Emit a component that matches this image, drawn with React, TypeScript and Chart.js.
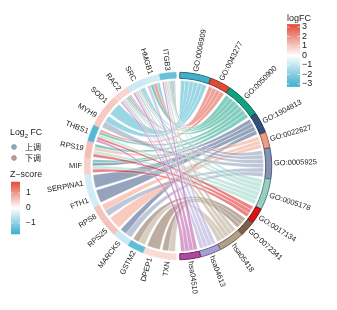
import { useEffect, useRef } from "react";
import { Chart, registerables } from "chart.js";

Chart.register(...registerables);

// ---- data ----
const terms = [
  "GO:0006909", "GO:0043277", "GO:0050900", "GO:1904813", "GO:0022627", "GO:0005925",
  "GO:0005178", "GO:0017134", "GO:0072341", "hsa05418", "hsa04613", "hsa04510",
];
const termColors = [
  "#3FB1CC", "#E04B37", "#12A083", "#34507F", "#F29C82", "#8592B5",
  "#93D2C3", "#D81414", "#7E6148", "#B3A089", "#A79FD4", "#B2479E",
];
// genes in clockwise order starting at the bottom of the circle
const genes = [
  "TXN", "DPEP1", "GSTM2", "MARCKS", "RPS25", "RPS8", "FTH1", "SERPINA1", "MIF",
  "RPS19", "THBS1", "MYH9", "SOD1", "RAC2", "SRC", "HMGB1", "ITGB3",
];
const logFC = [0.6, 0.6, -2.4, -0.8, 1.0, 1.0, -0.7, -0.7, 0.8, 1.1, -2.6, 0.9, 0.9, 0.7, -0.8, -0.7, -2.3];
const termGenes = [
  ["ITGB3", "HMGB1", "SRC", "RAC2", "SOD1", "MYH9"],
  ["ITGB3", "HMGB1", "RAC2", "THBS1"],
  ["ITGB3", "HMGB1", "SRC", "RAC2", "THBS1", "RPS19", "MIF"],
  ["MIF", "SERPINA1", "FTH1", "MARCKS"],
  ["RPS19", "RPS8", "RPS25"],
  ["ITGB3", "SRC", "RAC2", "MYH9", "RPS8", "MARCKS"],
  ["ITGB3", "SRC", "RAC2", "THBS1", "RPS19", "MIF"],
  ["THBS1", "RPS19", "MIF"],
  ["GSTM2", "DPEP1", "TXN"],
  ["ITGB3", "SRC", "RAC2", "GSTM2", "TXN"],
  ["ITGB3", "HMGB1", "SRC", "RAC2"],
  ["ITGB3", "SRC", "RAC2", "THBS1"],
];
const logFCTicks = [3, 2, 1, 0, -1, -2, -3];
const zTicks = [1, 0, -1];
const dirLabels = ["上调", "下调"];

// ---- helpers ----
const RED = [226, 74, 56];
const BLUE = [58, 174, 205];
const WHITE = [255, 255, 255];
function mix(a: number[], b: number[], t: number) {
  const c = a.map((v, i) => Math.round(v + (b[i] - v) * t));
  return `rgb(${c[0]},${c[1]},${c[2]})`;
}
function fcColor(v: number) {
  const t = Math.max(-1, Math.min(1, v / 3));
  return t >= 0 ? mix(WHITE, RED, t) : mix(WHITE, BLUE, -t);
}
function hexRgb(h: string) {
  return [1, 3, 5].map((i) => parseInt(h.slice(i, i + 2), 16));
}
function darken(h: string, f: number) {
  const c = hexRgb(h).map((v) => Math.round(v * f));
  return `rgb(${c[0]},${c[1]},${c[2]})`;
}
function alpha(h: string, a: number) {
  const c = hexRgb(h);
  return `rgba(${c[0]},${c[1]},${c[2]},${a})`;
}

const FONT = "'Liberation Sans', Arial, Helvetica, sans-serif";
const termCounts = termGenes.map((g) => g.length);
const totalLinks = termCounts.reduce((a, b) => a + b, 0);
const geneVal = totalLinks / genes.length;
const gapVal = totalLinks * 0.012;
const totalVal = 2 * totalLinks + 2 * gapVal;
const gapDeg = (gapVal / totalVal) * 360;

const chordPlugin = {
  id: "chord",
  beforeDatasetsDraw(chart: any) {
    const ctx = chart.ctx;
    const arcs = chart.getDatasetMeta(0).data;
    const nT = terms.length;
    const cx = arcs[0].x;
    const cy = arcs[0].y;
    const R = arcs[0].innerRadius - 1.5;
    const inset = 1.2 / R;
    const span = (a: any) => [a.startAngle + inset, a.endAngle - inset];

    const geneSlot: Record<string, number[]> = {};
    genes.forEach((g, gi) => {
      const tl = terms.map((_, ti) => ti).filter((ti) => termGenes[ti].includes(g));
      const [s, e] = span(arcs[nT + 1 + gi]);
      const w = (e - s) / tl.length;
      tl.forEach((ti, k) => {
        const j = tl.length - 1 - k;
        geneSlot[ti + "|" + g] = [s + j * w, s + (j + 1) * w];
      });
    });

    const P = (a: number) => [cx + Math.cos(a) * R, cy + Math.sin(a) * R];
    terms.forEach((t, ti) => {
      const gl = [...termGenes[ti]].sort((a, b) => genes.indexOf(b) - genes.indexOf(a));
      const [s, e] = span(arcs[ti]);
      const w = (e - s) / gl.length;
      gl.forEach((g, k) => {
        const t0 = s + k * w;
        const t1 = s + (k + 1) * w;
        const [g0, g1] = geneSlot[ti + "|" + g];
        ctx.beginPath();
        const p0 = P(g0);
        ctx.moveTo(p0[0], p0[1]);
        ctx.arc(cx, cy, R, g0, g1);
        const pt0 = P(t0);
        ctx.quadraticCurveTo(cx, cy, pt0[0], pt0[1]);
        ctx.arc(cx, cy, R, t0, t1);
        ctx.quadraticCurveTo(cx, cy, p0[0], p0[1]);
        ctx.closePath();
        ctx.fillStyle = alpha(termColors[ti], 0.52);
        ctx.fill();
        ctx.lineWidth = 0.5;
        ctx.strokeStyle = "rgba(255,255,255,0.7)";
        ctx.stroke();
      });
    });
  },
  afterDraw(chart: any) {
    const ctx = chart.ctx;
    const arcs = chart.getDatasetMeta(0).data;
    const nT = terms.length;
    const cx = arcs[0].x;
    const cy = arcs[0].y;
    const rl = arcs[0].outerRadius + 3;
    ctx.save();
    ctx.fillStyle = "#1a1a1a";
    ctx.font = `7.5px ${FONT}`;
    ctx.textBaseline = "middle";
    const label = (a: any, text: string, right: boolean) => {
      const m = (a.startAngle + a.endAngle) / 2;
      ctx.save();
      ctx.translate(cx + Math.cos(m) * rl, cy + Math.sin(m) * rl);
      if (right) {
        ctx.rotate(m);
        ctx.textAlign = "left";
      } else {
        ctx.rotate(m + Math.PI);
        ctx.textAlign = "right";
      }
      ctx.fillText(text, 0, 0);
      ctx.restore();
    };
    terms.forEach((t, i) => label(arcs[i], t, true));
    genes.forEach((g, i) => label(arcs[nT + 1 + i], g, false));

    // logFC legend
    ctx.textAlign = "left";
    ctx.font = `9px ${FONT}`;
    ctx.fillText("logFC", 287, 19);
    const yF = (v: number) => 55.5 - v * 9.5;
    const bx = 287, bw = 13;
    const top = yF(3.3), bot = yF(-3.3);
    let gr = ctx.createLinearGradient(0, top, 0, bot);
    gr.addColorStop(0, mix(WHITE, RED, 1));
    gr.addColorStop(0.5, "#ffffff");
    gr.addColorStop(1, mix(WHITE, BLUE, 1));
    ctx.fillStyle = gr;
    ctx.fillRect(bx, top, bw, bot - top);
    ctx.strokeStyle = "#ffffff";
    ctx.lineWidth = 0.6;
    ctx.fillStyle = "#1a1a1a";
    ctx.font = `9px ${FONT}`;
    logFCTicks.forEach((v) => {
      const y = yF(v);
      ctx.beginPath();
      ctx.moveTo(bx, y); ctx.lineTo(bx + 2.6, y);
      ctx.moveTo(bx + bw - 2.6, y); ctx.lineTo(bx + bw, y);
      ctx.stroke();
      ctx.fillText(v < 0 ? "−" + Math.abs(v) : String(v), bx + bw + 2, y);
    });

    // Log2 FC legend
    ctx.font = `8.8px ${FONT}`;
    ctx.fillText("Log", 10, 133);
    const w = ctx.measureText("Log").width;
    ctx.font = `6px ${FONT}`;
    ctx.fillText("2", 10 + w, 136);
    const w2 = ctx.measureText("2").width;
    ctx.font = `8.8px ${FONT}`;
    ctx.fillText(" FC", 10 + w + w2, 133);
    const dotFill = ["#8FABBF", "#C29A9A"];
    const dotStroke = ["#6F8A9C", "#A27A7A"];
    ctx.font = `8px 'Noto Sans CJK SC', ${FONT}`;
    dirLabels.forEach((t, i) => {
      const y = 147 + i * 11;
      ctx.beginPath();
      ctx.arc(14, y, 2.4, 0, Math.PI * 2);
      ctx.fillStyle = dotFill[i];
      ctx.fill();
      ctx.strokeStyle = dotStroke[i];
      ctx.lineWidth = 0.7;
      ctx.stroke();
      ctx.fillStyle = "#1a1a1a";
      ctx.fillText(t, 25, y);
    });

    // Z-score legend
    ctx.font = `8.8px ${FONT}`;
    ctx.fillText("Z−score", 10, 175);
    const yZ = (v: number) => 208 - v * 15;
    const zx = 11, zw = 9;
    const zt = yZ(1.75), zb = yZ(-1.75);
    gr = ctx.createLinearGradient(0, zt, 0, zb);
    gr.addColorStop(0, mix(WHITE, RED, 1));
    gr.addColorStop(0.5, "#ffffff");
    gr.addColorStop(1, mix(WHITE, BLUE, 1));
    ctx.fillStyle = gr;
    ctx.fillRect(zx, zt, zw, zb - zt);
    ctx.strokeStyle = "#ffffff";
    ctx.lineWidth = 0.6;
    ctx.fillStyle = "#1a1a1a";
    ctx.font = `8.5px ${FONT}`;
    zTicks.forEach((v) => {
      const y = yZ(v);
      ctx.beginPath();
      ctx.moveTo(zx, y); ctx.lineTo(zx + 1.8, y);
      ctx.moveTo(zx + zw - 1.8, y); ctx.lineTo(zx + zw, y);
      ctx.stroke();
      ctx.fillText(v < 0 ? "−" + Math.abs(v) : String(v), zx + zw + 6, y);
    });
    ctx.restore();
  },
};

export default function App() {
  const ref = useRef<HTMLCanvasElement>(null);
  useEffect(() => {
    const transparent = "rgba(0,0,0,0)";
    const values = [...termCounts, gapVal, ...genes.map(() => geneVal), gapVal];
    const bg = [...termColors, transparent, ...logFC.map(fcColor), transparent];
    const bc = [
      ...termColors.map((c) => darken(c, 0.62)), transparent,
      ...logFC.map(fcColor), transparent,
    ];
    const bwid = [...terms.map(() => 1), 0, ...genes.map(() => 0.5), 0];
    const chart = new Chart(ref.current!, {
      type: "doughnut",
      data: {
        labels: [...terms, "", ...genes, ""],
        datasets: [
          {
            data: values,
            backgroundColor: bg,
            borderColor: bc,
            borderWidth: bwid,
            spacing: 1.5,
            radius: 93,
            cutout: "93.5%",
          } as any,
        ],
      },
      options: {
        animation: false,
        responsive: false,
        devicePixelRatio: 1,
        rotation: gapDeg / 2,
        layout: { padding: { left: 19, right: 0, top: 22, bottom: 0 } },
        plugins: { legend: { display: false }, tooltip: { enabled: false } },
        events: [],
      } as any,
      plugins: [chordPlugin],
    });
    return () => chart.destroy();
  }, []);
  return (
    <div style={{ position: "absolute", left: 0, top: 0, width: 337, height: 310, background: "#fff" }}>
      <canvas ref={ref} width={337} height={310} />
    </div>
  );
}
